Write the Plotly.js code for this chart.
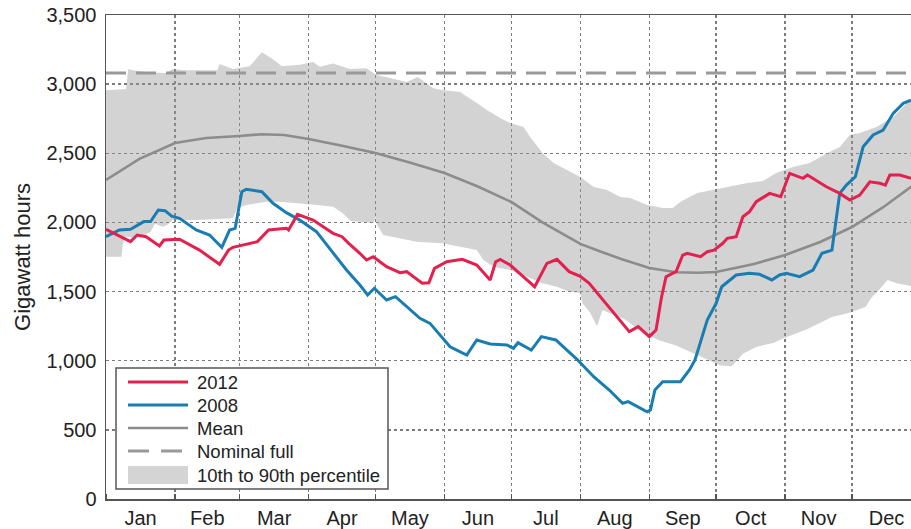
<!DOCTYPE html>
<html><head><meta charset="utf-8">
<script src="https://cdn.plot.ly/plotly-3.0.1.min.js"></script>
<style>html,body{margin:0;padding:0;overflow:hidden;background:#fff}</style>
</head><body><div id="chart" style="width:911px;height:529px"></div>
<script>
const monthNames = ['Jan','Feb','Mar','Apr','May','Jun','Jul','Aug','Sep','Oct','Nov','Dec'];
const monthStarts = [0,31,60,91,121,152,182,213,244,274,305,335,366];
const monthMids = [15.5,45.5,75.5,106,136.5,167,197.5,228.5,259,289.5,320,350.5];
const nominalFull = 3080;

const meanDays = [0,15,31,45,60,70,80,91,106,121,136,152,167,182,196,213,222,231,244,256,266,274,291,305,321,335,349,361.5,366];
const meanValues = [2307,2460,2574,2610,2625,2638,2632,2603,2555,2502,2435,2357,2260,2148,2000,1845,1790,1738,1670,1640,1636,1641,1700,1764,1860,1967,2110,2262,2310];

const redDays = [0,5,11,14,18,24,26,33,42,51,55,57,62,68,73,81,82,86,93,102,106,109,114,117,120,126,132,135,142,145,147.5,153,160,166.5,172.5,175,177,181.5,187.5,192.5,198,202.5,208,213,217,222,227,235,239,244,247,249.5,251.5,256,259,261,267,270,273,277,279,283,286,289,292,298,303,307,313,315,323.5,329.5,334,338.5,343,347.5,350,352,356.5,361.5];
const redValues = [1950,1909,1861,1909,1897,1830,1873,1878,1800,1697,1800,1820,1837,1861,1945,1957,1945,2059,2017,1921,1897,1849,1777,1728,1752,1680,1637,1644,1560,1564,1668,1716,1733,1692,1584,1716,1733,1692,1607,1535,1704,1733,1644,1610,1560,1463,1370,1210,1246,1174,1222,1463,1607,1644,1764,1777,1752,1788,1800,1849,1885,1897,2041,2078,2150,2210,2186,2355,2319,2343,2258,2210,2162,2198,2294,2283,2270,2343,2343,2319];

const blueDays = [0,6,11,17,20,23.5,26.5,29.5,33,40.5,46.5,52,55.5,58,61,63,70,75,81,87,94.5,102,108,114,117.5,120.5,126,130,135,141,145.5,154.5,157.5,162,166.5,172.5,180,183,185,191,195.5,202,211.5,219,226,232,234.5,243,244.5,246.5,250,258,262,264.5,270,274,276.5,283,289,293.5,299,302.5,305.5,311.5,317.5,321.5,326,328,329.5,332.5,336.5,340,344.5,349,353.5,358,361.5];
const blueValues = [1897,1945,1950,2006,2006,2090,2085,2046,2030,1945,1909,1820,1945,1957,2222,2240,2222,2138,2071,2017,1933,1777,1656,1547,1475,1524,1439,1463,1391,1307,1270,1101,1077,1041,1150,1121,1114,1090,1130,1077,1174,1150,1010,884,788,692,704,631,644,788,848,848,933,1005,1294,1415,1535,1620,1632,1625,1584,1620,1632,1608,1656,1777,1800,2017,2210,2270,2330,2547,2632,2668,2789,2861,2885];

const upperDays = [0,9,10,12,20,27,30,35,50,51,57,64.5,70,75,79,87,93,96,102,109.5,117,121.5,127.5,135,140,147,151,159,166.5,171,177,181.5,187.5,190.5,196,201,207,213,219,225,231,235.5,243,250,254.5,258,265.5,272.5,280,288,295,301,308.5,316,324,329.5,334,338.5,346,353.5,361.5];
const upperValues = [2955,2965,3110,3100,3085,3080,3110,3100,3100,3145,3110,3130,3230,3180,3130,3140,3160,3125,3150,3110,3115,3066,3044,3015,3051,2971,2957,2943,2863,2813,2755,2719,2690,2618,2502,2430,2379,2328,2256,2234,2184,2177,2126,2104,2104,2150,2212,2234,2258,2285,2300,2357,2400,2430,2502,2545,2632,2646,2690,2762,2890];

const lowerDays = [0,7,7.5,8.5,12,16,20,22,25.5,27.5,30,41,57,59,63,72,78,87,95,102,106,110,120,121,121.5,124.5,132,139.5,151,159,166.5,169.5,174,181.5,189,196,202.5,208,213,214,217.5,220.5,223,226,233,240.5,248,256,263,270,276,281,286,292,300,304,315,326,333.5,341,344,346.5,351,355,361.5];
const lowerValues = [1752,1752,1837,1897,1890,1900,1930,1990,1969,1981,2017,2017,2030,2104,2126,2150,2150,2140,2126,2114,2070,2010,1995,2040,1990,1909,1887,1861,1849,1825,1800,1728,1680,1656,1607,1560,1535,1499,1490,1415,1345,1250,1367,1345,1300,1210,1150,1110,1060,1010,965,960,1050,1100,1130,1160,1230,1316,1345,1388,1460,1500,1584,1560,1540];

const legendLabels = ['2012','2008','Mean','Nominal full','10th to 90th percentile'];

const FONT = 'Liberation Sans, Arial, Helvetica, sans-serif';
const gridColor = '#7c7c7c';
const RED = '#e3214f', BLUE = '#1a7db2', MEANC = '#8c8c8c', NOMC = '#999999';
const BANDFILL = 'rgba(150,150,150,0.42)';

const traces = [
  {x: lowerDays, y: lowerValues, type: 'scatter', mode: 'lines', line: {width: 0, color: 'rgba(0,0,0,0)'},
   showlegend: false, hoverinfo: 'skip'},
  {x: upperDays, y: upperValues, type: 'scatter', mode: 'lines', fill: 'tonexty',
   fillcolor: BANDFILL, line: {width: 0, color: 'rgba(0,0,0,0)'},
   name: legendLabels[4], showlegend: false},
  {x: meanDays, y: meanValues, type: 'scatter', mode: 'lines', line: {color: MEANC, width: 2.6},
   name: legendLabels[2], showlegend: false},
  {x: [monthStarts[0], monthStarts[12]], y: [nominalFull, nominalFull], type: 'scatter', mode: 'lines',
   line: {color: NOMC, width: 3, dash: '20px,10px'}, name: legendLabels[3], showlegend: false},
  {x: blueDays, y: blueValues, type: 'scatter', mode: 'lines', line: {color: BLUE, width: 3},
   name: legendLabels[1], showlegend: false},
  {x: redDays, y: redValues, type: 'scatter', mode: 'lines', line: {color: RED, width: 3},
   name: legendLabels[0], showlegend: false}
];

// legend box drawn in paper coordinates
const W = 805, H = 484; // plot area size in px
const px = v => v / W, py = v => v / H;
const boxL = 10, boxR = 282, boxB = 10, boxT = 131;
const rowY = [117, 94, 71, 48, 24];
const symL = 22, symR = 82, txtL = 89;
const shapes = [
  {type: 'rect', xref: 'paper', yref: 'paper', x0: px(boxL), x1: px(boxR), y0: py(boxB), y1: py(boxT),
   fillcolor: '#ffffff', line: {color: '#555', width: 1.5}, layer: 'above'},
  {type: 'line', xref: 'paper', yref: 'paper', x0: px(symL), x1: px(symR), y0: py(rowY[0]), y1: py(rowY[0]),
   line: {color: RED, width: 3}, layer: 'above'},
  {type: 'line', xref: 'paper', yref: 'paper', x0: px(symL), x1: px(symR), y0: py(rowY[1]), y1: py(rowY[1]),
   line: {color: BLUE, width: 3}, layer: 'above'},
  {type: 'line', xref: 'paper', yref: 'paper', x0: px(symL), x1: px(symR), y0: py(rowY[2]), y1: py(rowY[2]),
   line: {color: MEANC, width: 2.6}, layer: 'above'},
  {type: 'line', xref: 'paper', yref: 'paper', x0: px(symL), x1: px(symR), y0: py(rowY[3]), y1: py(rowY[3]),
   line: {color: NOMC, width: 3, dash: '21px,12px'}, layer: 'above'},
  {type: 'rect', xref: 'paper', yref: 'paper', x0: px(symL), x1: px(symR), y0: py(rowY[4] - 9), y1: py(rowY[4] + 9),
   fillcolor: '#d4d4d4', line: {width: 0}, layer: 'above'}
];
const annotations = legendLabels.map((t, i) => ({
  xref: 'paper', yref: 'paper', x: px(txtL), y: py(rowY[i]), xanchor: 'left', yanchor: 'middle',
  text: t, showarrow: false, font: {family: FONT, size: 18.5, color: '#222'}
}));

const layout = {
  width: 911, height: 529,
  margin: {l: 106, r: 0, t: 15, b: 30},
  paper_bgcolor: '#ffffff', plot_bgcolor: '#ffffff',
  font: {family: FONT, size: 20, color: '#222'},
  showlegend: false,
  shapes: shapes,
  annotations: annotations,
  xaxis: {
    range: [0, 361.5], tickmode: 'array', tickvals: monthMids, ticktext: monthNames,
    ticks: '', showgrid: false, zeroline: false,
    showline: true, linecolor: '#555', linewidth: 1.5, mirror: true,
    tickfont: {family: FONT, size: 20, color: '#222'},
    minor: {tickmode: 'array', tickvals: monthStarts, showgrid: true, gridcolor: gridColor,
      gridwidth: 1.5, griddash: 'dot', ticks: 'inside', ticklen: 5, tickcolor: '#555', tickwidth: 1.5}
  },
  yaxis: {
    range: [0, 3500], dtick: 500, tick0: 0, tickformat: ',d',
    showgrid: true, gridcolor: gridColor, gridwidth: 1.5, griddash: 'dot', zeroline: false,
    showline: true, linecolor: '#555', linewidth: 1.5, ticks: '', ticklabelstandoff: 4,
    tickfont: {family: FONT, size: 20, color: '#222'},
    title: {text: 'Gigawatt hours', font: {family: FONT, size: 22, color: '#222'}, standoff: 9}
  }
};

Plotly.newPlot('chart', traces, layout, {displayModeBar: false, staticPlot: true});
</script>
</body></html>
